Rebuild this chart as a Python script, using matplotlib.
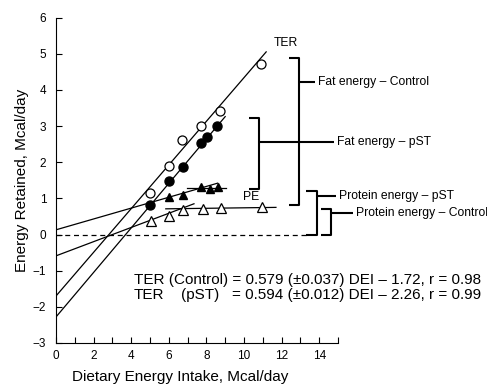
import matplotlib
matplotlib.use("Agg")
import numpy as np
import matplotlib.pyplot as plt

plt.rcParams["font.family"] = ["Liberation Sans", "DejaVu Sans"]

# observed points (DEI, energy retained)
ter_ctrl_x = [5.0, 6.0, 6.7, 7.7, 8.7, 10.9]
ter_ctrl_y = [1.14, 1.89, 2.60, 3.01, 3.42, 4.72]
ter_pst_x = [5.0, 6.0, 6.75, 7.7, 8.05, 8.56]
ter_pst_y = [0.82, 1.48, 1.87, 2.52, 2.70, 3.00]
pe_pst_x = [6.0, 6.75, 7.73, 8.17, 8.6]
pe_pst_y = [1.04, 1.10, 1.31, 1.25, 1.30]
pe_ctrl_x = [5.04, 6.0, 6.75, 7.8, 8.78, 10.96]
pe_ctrl_y = [0.37, 0.50, 0.69, 0.71, 0.73, 0.76]

# fitted lines: (x0, y0, x1, y1)
fit_lines = [
    (0, -1.70, 11.18, 5.05),   # TER control
    (0, -2.28, 9.0, 3.26),     # TER pST
    (0, 0.13, 8.6, 1.42),      # PE pST, rising part
    (6.97, 1.28, 9.05, 1.28),  # PE pST, plateau
    (0, -0.59, 7.34, 0.85),    # PE control, rising part
    (5.84, 0.71, 11.7, 0.75),  # PE control, plateau
]

eq_ctrl = "TER (Control) = 0.579 (\u00b10.037) DEI \u2013 1.72, r = 0.98"
eq_pst = "= 0.594 (\u00b10.012) DEI \u2013 2.26, r = 0.99"

fig = plt.figure(figsize=(4.87, 3.87), dpi=100)
ax = fig.add_axes([0.115, 0.1137, 0.579, 0.841])
ax.set_xlim(0, 15)
ax.set_ylim(-3, 6)

for x0, y0, x1, y1 in fit_lines:
    ax.plot([x0, x1], [y0, y1], color="black", lw=0.9)
ax.plot([0, 13.4], [0, 0], color="black", lw=0.9, ls=(0, (4, 3)))

ax.plot(ter_ctrl_x, ter_ctrl_y, "o", ms=6.5, mfc="white", mec="black", mew=0.9)
ax.plot(ter_pst_x, ter_pst_y, "o", ms=6.5, mfc="black", mec="black")
ax.plot(pe_pst_x, pe_pst_y, "^", ms=6, mfc="black", mec="black")
ax.plot(pe_ctrl_x, pe_ctrl_y, "^", ms=6.5, mfc="white", mec="black", mew=0.9)

# brackets
bk = dict(color="black", lw=1.5, clip_on=False, solid_capstyle="butt")
lab = dict(fontsize=8.7, va="center")
ax.plot([12.38, 12.9, 12.9, 12.38], [4.88, 4.88, 0.825, 0.825], **bk)
ax.plot([12.9, 13.8], [4.23, 4.23], **bk)
ax.text(13.95, 4.23, "Fat energy \u2013 Control", **lab)

ax.plot([10.25, 10.82, 10.82, 10.25], [3.21, 3.21, 1.27, 1.27], **bk)
ax.plot([10.82, 14.8], [2.56, 2.56], **bk)
ax.text(14.95, 2.56, "Fat energy \u2013 pST", **lab)

ax.plot([13.3, 13.86, 13.86, 13.3], [1.19, 1.19, 0.0, 0.0], **bk)
ax.plot([13.86, 14.9], [1.06, 1.06], **bk)
ax.text(15.07, 1.06, "Protein energy \u2013 pST", **lab)

ax.plot([14.1, 14.63, 14.63, 14.1], [0.71, 0.71, 0.0, 0.0], **bk)
ax.plot([14.63, 15.8], [0.6, 0.6], **bk)
ax.text(15.95, 0.6, "Protein energy \u2013 Control", **lab)

ax.text(12.25, 5.3, "TER", fontsize=8.7, ha="center", va="center")
ax.text(10.4, 1.04, "PE", fontsize=8.7, ha="center", va="center")

# equations
ax.text(4.14, -1.25, eq_ctrl, fontsize=11, va="center")
ax.text(4.14, -1.675, "TER", fontsize=11, va="center")
ax.text(6.63, -1.675, "(pST)", fontsize=11, va="center")
ax.text(9.35, -1.675, eq_pst, fontsize=11, va="center")

ax.spines["top"].set_visible(False)
ax.spines["right"].set_visible(False)
ax.set_xticks(np.arange(0, 15, 2))
ax.set_xticks(np.arange(0, 16, 1), minor=True)
ax.set_yticks(np.arange(-3, 7, 1))
ax.tick_params(direction="in", length=4, width=0.8, labelsize=8.5)
ax.tick_params(which="minor", direction="in", length=4, width=0.8)
ax.tick_params(axis="y", pad=7)
ax.tick_params(axis="x", pad=5)

ax.set_ylabel("Energy Retained, Mcal/day", fontsize=11, labelpad=3)
fig.text(72 / 487, 1 - 381 / 387, "Dietary Energy Intake, Mcal/day", fontsize=11, va="baseline")

fig.savefig("out.png", dpi=100)
